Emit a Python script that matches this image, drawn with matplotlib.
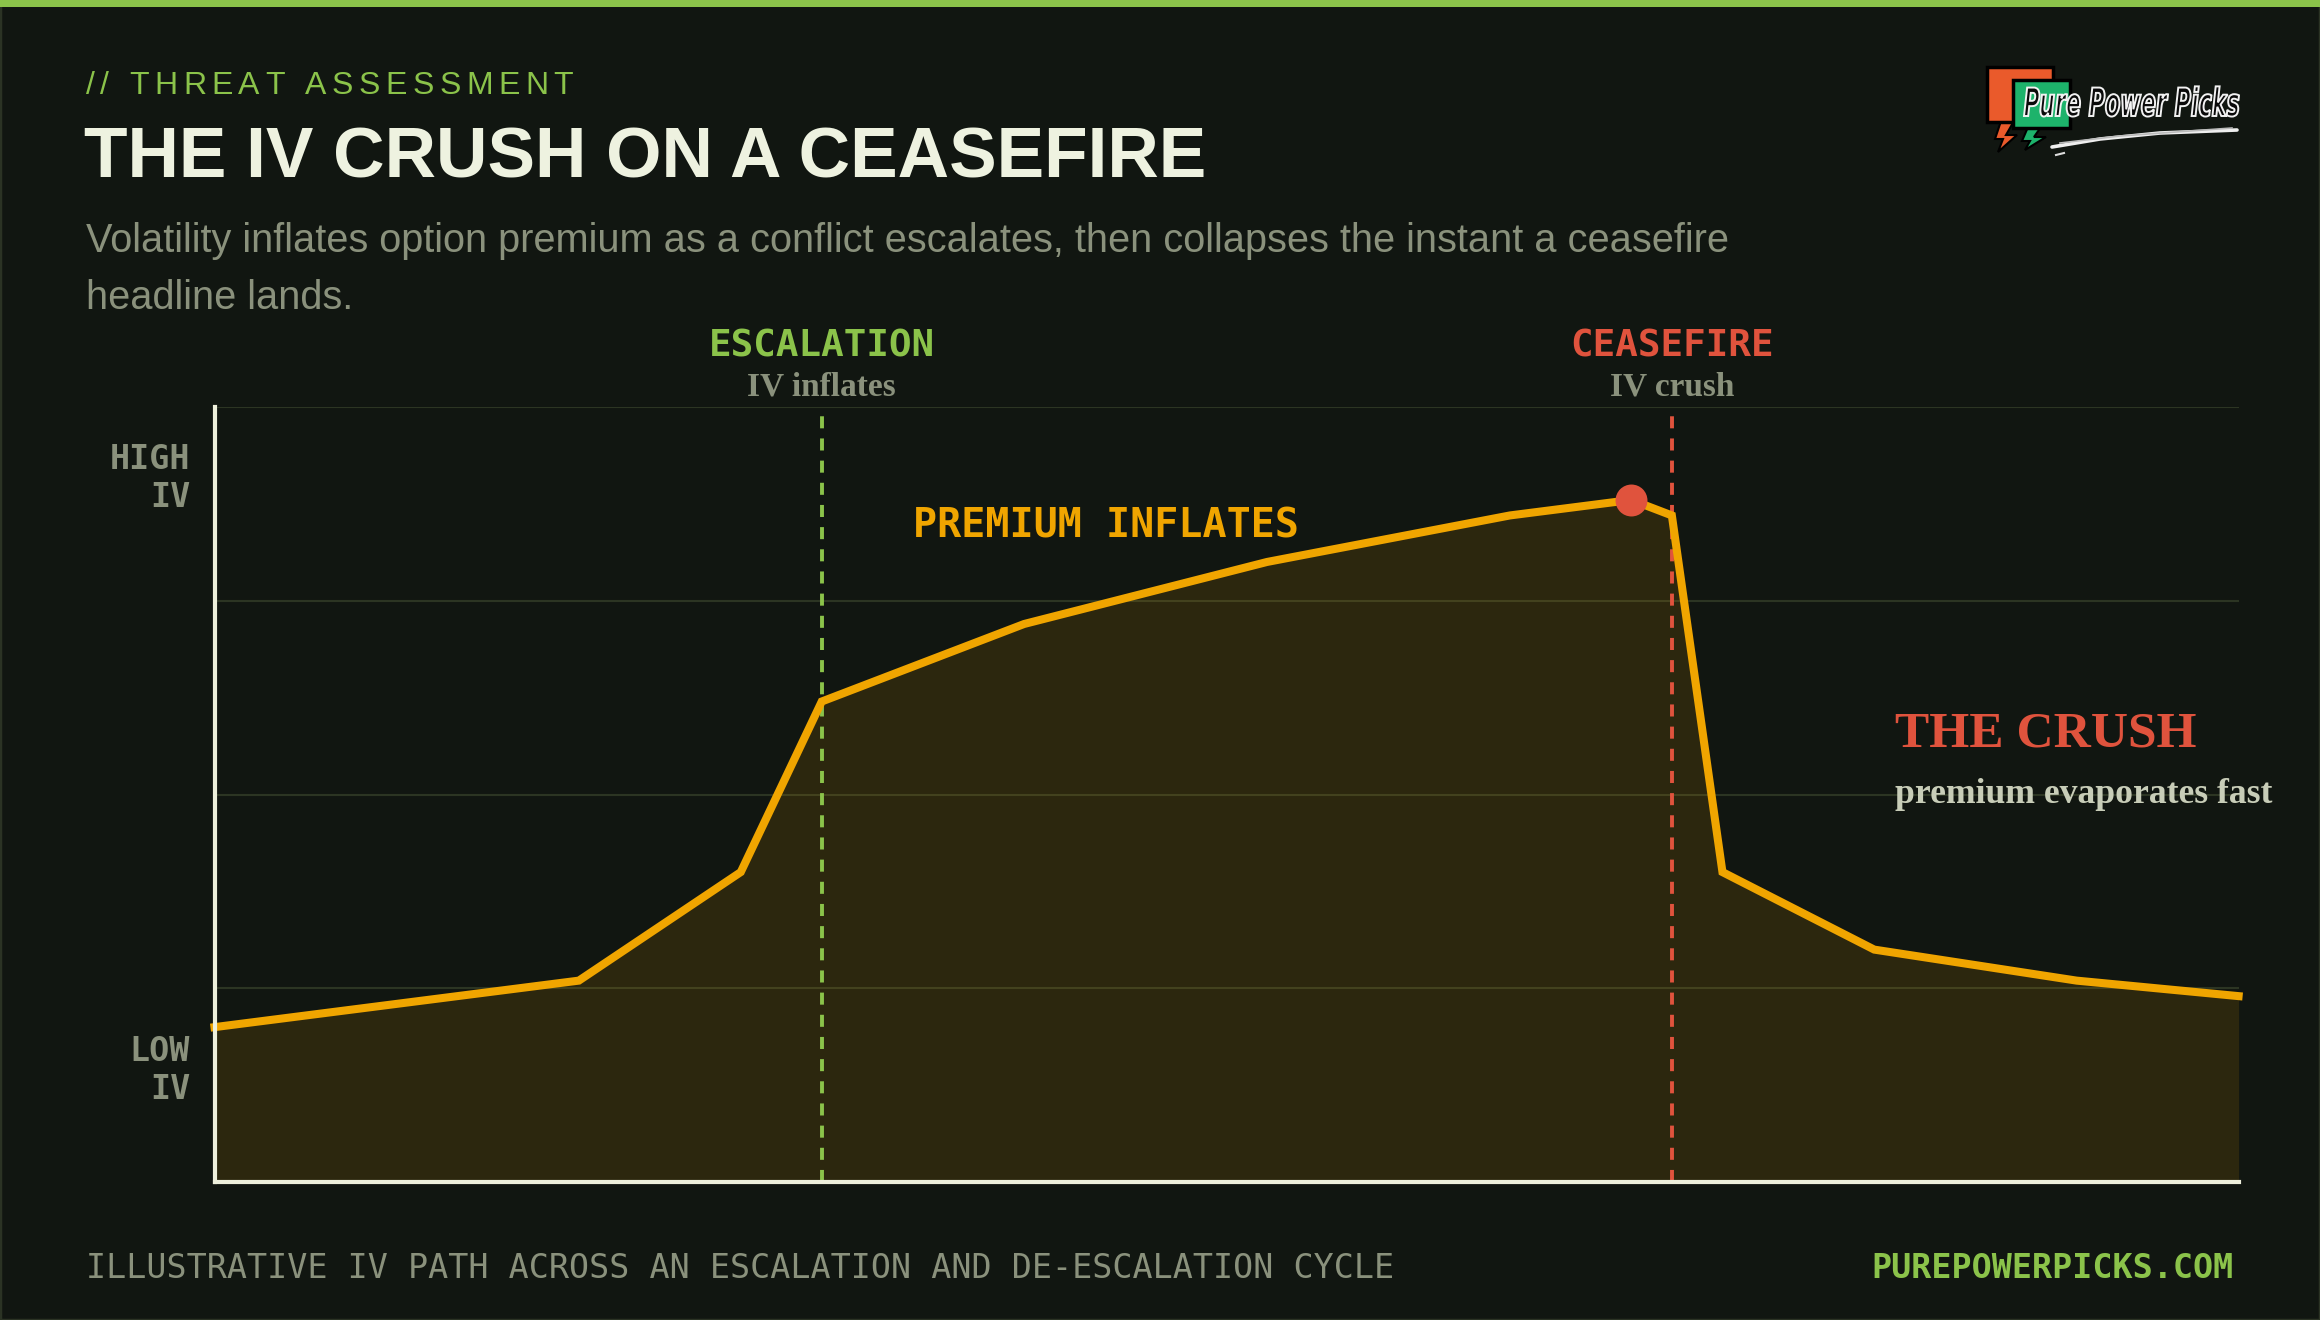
import matplotlib
matplotlib.use("Agg")
import matplotlib.pyplot as plt
from matplotlib.patches import Rectangle, Polygon, PathPatch
from matplotlib.textpath import TextPath
from matplotlib.font_manager import FontProperties
from matplotlib.transforms import Affine2D

# ── Data (illustrative IV path, 0-100 scale) ──
days = [0, 18, 26, 30, 40, 52, 64, 70, 72, 74.5, 82, 92, 100]
iv = [20, 26, 40, 62, 72, 80, 86, 88, 86, 40, 30, 26, 24]
peak_idx = 7
escalation_x = 30
ceasefire_x = 72
grid_levels = [25, 50, 75, 100]

BG = '#111611'
ORANGE = '#F0A500'
RED = '#E0533D'
GREEN = '#8BC34A'
GRAY = '#8A917C'
CREAM = '#EEF2E0'
GRID = '#2C3523'
MONO = 'DejaVu Sans Mono'
SANS = 'Liberation Sans'
SERIF = 'Liberation Serif'

W, H = 2320, 1320
fig = plt.figure(figsize=(W / 100, H / 100), dpi=100, facecolor=BG)
renderer = fig.canvas.get_renderer()


def fx(px):
    return px / W


def fy(py):
    return 1 - py / H


def spaced_text(x_px, y_px, s, spacing_px, **kw):
    """Draw text char by char with extra tracking (pixel units)."""
    prop = FontProperties(family=kw.get('family'), size=kw.get('fontsize'),
                          weight=kw.get('fontweight', 'normal'))
    x = x_px
    for ch in s:
        fig.text(fx(x), fy(y_px), ch, ha='left', va='center', **kw)
        w, _, _ = renderer.get_text_width_height_descent(ch, prop, ismath=False)
        x += w + spacing_px


# frame + top accent bar
fig.patches.append(Rectangle((0, 0), 1, 1, transform=fig.transFigure, facecolor='none',
                             edgecolor='#2B3324', lw=2.5, zorder=0))
fig.patches.append(Rectangle((0, fy(7)), 1, 7 / H, transform=fig.transFigure,
                             facecolor=GREEN, edgecolor='none', zorder=1))

# ── Header text ──
spaced_text(86, 86, '// THREAT ASSESSMENT', 5.5, color=GREEN, fontsize=23, family=SANS)
fig.text(fx(84), fy(159), 'THE IV CRUSH ON A CEASEFIRE', color=CREAM, fontsize=51.3,
         family=SANS, fontweight='bold', va='center', ha='left')
fig.text(fx(86), fy(241), 'Volatility inflates option premium as a conflict escalates, '
         'then collapses the instant a ceasefire', color=GRAY, fontsize=28.6,
         family=SANS, va='center', ha='left')
fig.text(fx(86), fy(298), 'headline lands.', color=GRAY, fontsize=28.6,
         family=SANS, va='center', ha='left')

# ── Footer ──
fig.text(fx(86), fy(1269), 'ILLUSTRATIVE IV PATH ACROSS AN ESCALATION AND DE-ESCALATION CYCLE',
         color=GRAY, fontsize=24, family=MONO, va='center', ha='left')
fig.text(fx(2234), fy(1269), 'PUREPOWERPICKS.COM', color=GREEN, fontsize=24,
         family=MONO, fontweight='bold', va='center', ha='right')

# ── Main chart ──
left, right, top, bottom = 214.5, 2238.6, 406.9, 1182.2
ax = fig.add_axes([fx(left), fy(bottom), fx(right - left), (bottom - top) / H])
ax.set_facecolor(BG)
ax.set_xlim(0, 100)
ax.set_ylim(0, 100)

for g in grid_levels:
    ax.axhline(g, color=GRID, lw=1.5, zorder=1)

ax.fill_between(days, iv, 0, color=ORANGE, alpha=0.12, lw=0, zorder=2)
ax.axvline(escalation_x, color=GREEN, lw=2.8, dashes=(3.1, 2.6), zorder=3)
ax.axvline(ceasefire_x, color=RED, lw=2.8, dashes=(3.1, 2.6), zorder=3)
ax.plot(days, iv, color=ORANGE, lw=5.8, solid_joinstyle='miter', zorder=4, clip_on=False)
ax.plot(days[peak_idx], iv[peak_idx], 'o', color=RED, markersize=23, mec='none', zorder=5)

for side in ['top', 'right']:
    ax.spines[side].set_visible(False)
for side in ['left', 'bottom']:
    ax.spines[side].set_color('#EEF0DC')
    ax.spines[side].set_linewidth(3)
    ax.spines[side].set_zorder(6)
ax.set_xticks([])
ax.set_yticks([])

# axis-end labels
ax.text(-0.012, 90.8, 'HIGH\nIV', transform=ax.get_yaxis_transform(), ha='right', va='center',
        color=GRAY, fontsize=24, family=MONO, fontweight='bold', linespacing=1.2)
ax.text(-0.012, 14.4, 'LOW\nIV', transform=ax.get_yaxis_transform(), ha='right', va='center',
        color=GRAY, fontsize=24, family=MONO, fontweight='bold', linespacing=1.2)

# event labels
ax.text(escalation_x, 107.8, 'ESCALATION', ha='center', va='center', color=GREEN,
        fontsize=27, family=MONO, fontweight='bold', clip_on=False)
ax.text(escalation_x, 102.6, 'IV inflates', ha='center', va='center', color=GRAY,
        fontsize=24, family=SERIF, fontweight='bold', clip_on=False)
ax.text(ceasefire_x, 107.8, 'CEASEFIRE', ha='center', va='center', color=RED,
        fontsize=27, family=MONO, fontweight='bold', clip_on=False)
ax.text(ceasefire_x, 102.6, 'IV crush', ha='center', va='center', color=GRAY,
        fontsize=24, family=SERIF, fontweight='bold', clip_on=False)

ax.text(34.5, 84.7, 'PREMIUM INFLATES', ha='left', va='center', color=ORANGE,
        fontsize=28.8, family=MONO, fontweight='bold')
ax.text(83.0, 57.7, 'THE CRUSH', ha='left', va='center', color=RED,
        fontsize=37, family=SERIF, fontweight='bold', clip_on=False)
ax.text(83.0, 50.0, 'premium evaporates fast', ha='left', va='center', color='#C8CDB8',
        fontsize=25.7, family=SERIF, fontweight='bold', clip_on=False)

# ── Logo (decorative) ──
lg = fig.add_axes([fx(1975), fy(165), fx(280), 110 / H])
lg.set_xlim(1975, 2255)
lg.set_ylim(165, 55)
lg.axis('off')
lg.add_patch(Polygon([(2001, 121), (2014, 121), (2006, 135), (2017, 135), (1998, 152),
                      (2003, 139), (1995, 139)], closed=True, fc='#EA5A2B', ec='black', lw=1.5))
lg.add_patch(Rectangle((1987, 67), 66, 55, fc='#EA5A2B', ec='black', lw=2.5))
lg.add_patch(Polygon([(2028, 127), (2041, 127), (2034, 137), (2046, 137), (2025, 150),
                      (2030, 141), (2022, 141)], closed=True, fc='#1DB36B', ec='black', lw=1.5))
lg.add_patch(Rectangle((2013, 80), 57, 48, fc='#1DB36B', ec='black', lw=2.5))
lg.plot([2052, 2100, 2160, 2237], [147, 139, 133, 130], color='#EEEEEE', lw=2.6,
        solid_capstyle='round')
lg.plot([2060, 2120, 2190, 2232], [143, 136, 131, 128], color='#BBBBBB', lw=1.2)
lg.plot([2056, 2064], [155, 153], color='#DDDDDD', lw=1.5)

tp = TextPath((0, 0), 'Pure Power Picks', size=1,
              prop=FontProperties(family='DejaVu Sans', weight='bold', style='italic'))
ext = tp.get_extents()
sx = 215 / ext.width
tp_t = Affine2D().translate(-ext.x0, 0).scale(sx, -39).translate(2024, 116).transform_path(tp)
lg.add_patch(PathPatch(tp_t, fc='#0A0A0A', ec='#F2F2F2', lw=1.4, zorder=5))

fig.savefig('out.png', dpi=100, facecolor=BG)
